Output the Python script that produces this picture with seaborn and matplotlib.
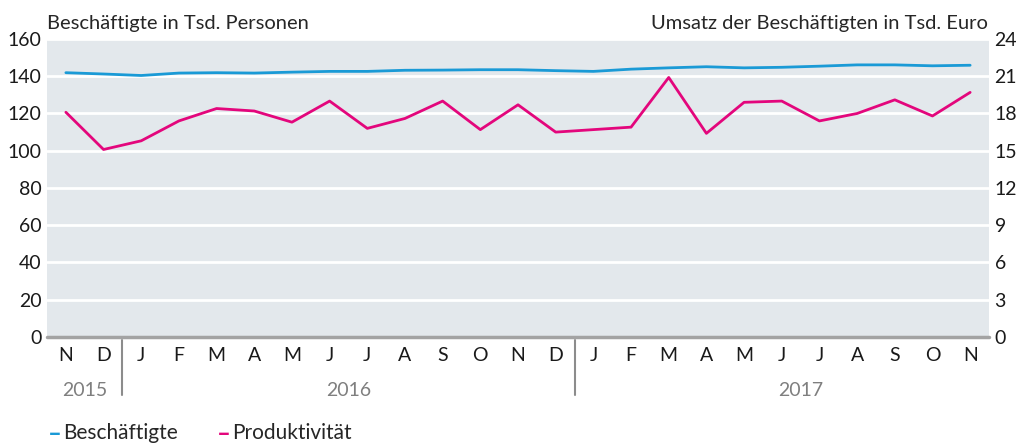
import matplotlib
matplotlib.use("Agg")
import matplotlib.pyplot as plt
import seaborn as sns
import pandas as pd

# data: Nov 2015 - Nov 2017
months = ["N", "D", "J", "F", "M", "A", "M", "J", "J", "A", "S", "O", "N",
          "D", "J", "F", "M", "A", "M", "J", "J", "A", "S", "O", "N"]
years = ["2015", "2016", "2017"]
beschaeftigte = [141.9, 141.2, 140.4, 141.7, 141.9, 141.7, 142.2, 142.6, 142.6, 143.2,
                 143.3, 143.5, 143.5, 143.0, 142.6, 143.8, 144.5, 145.1, 144.5, 144.8,
                 145.4, 146.1, 146.1, 145.6, 145.9]
produktivitaet = [18.1, 15.1, 15.8, 17.4, 18.4, 18.2, 17.3, 19.0, 16.8, 17.6,
                  19.0, 16.7, 18.7, 16.5, 16.7, 16.9, 20.9, 16.4, 18.9, 19.0,
                  17.4, 18.0, 19.1, 17.8, 19.7]

df = pd.DataFrame({"pos": range(len(months)), "besch": beschaeftigte, "prod": produktivitaet})

BLUE = "#1a9ad6"
PINK = "#e3067c"
BG = "#e3e8ec"

sns.set_theme(style="white")
plt.rcParams["font.family"] = ["Lato", "DejaVu Sans"]

fig = plt.figure(figsize=(10.18, 4.43), dpi=100)
ax = fig.add_axes([0.0462, 0.2393, 0.9253, 0.6727])
ax.set_facecolor(BG)
ax2 = ax.twinx()

sns.lineplot(data=df, x="pos", y="besch", ax=ax, color=BLUE, linewidth=2)
sns.lineplot(data=df, x="pos", y="prod", ax=ax2, color=PINK, linewidth=2)

ax.set_xlim(-0.5, 24.5)
ax.set_ylim(0, 160)
ax2.set_ylim(0, 24)
ax.set_yticks(range(0, 161, 20))
ax2.set_yticks(range(0, 25, 3))
ax.set_xticks(range(len(months)))
ax.set_xticklabels(months)

for y in range(20, 161, 20):
    ax.axhline(y, color="white", linewidth=2, zorder=1)
ax.axhline(0, color="#a3a3a3", linewidth=2.5, zorder=3, clip_on=False)

for a in (ax, ax2):
    for s in a.spines.values():
        s.set_visible(False)
    a.set_xlabel("")
    a.set_ylabel("")
ax.tick_params(axis="both", length=0, labelsize=14, colors="#1a1a1a")
ax.tick_params(axis="x", pad=7)
ax.tick_params(axis="y", pad=4)
ax2.tick_params(axis="y", length=0, labelsize=14, colors="#1a1a1a", pad=4)

# year labels and separators
for xpos, yr in zip((0.5, 7.5, 19.5), years):
    ax.text(xpos, -0.18, yr, transform=ax.get_xaxis_transform(), ha="center", va="center",
            fontsize=14, color="#7f7f7f")
for xs in (1.5, 13.5):
    ax.plot([xs, xs], [-0.01, -0.195], transform=ax.get_xaxis_transform(), color="#8c8c8c",
            linewidth=1.5, clip_on=False)

# axis titles
fig.text(0.0462, 0.948, "Beschäftigte in Tsd. Personen", ha="left", va="center", fontsize=14.5)
fig.text(0.9705, 0.948, "Umsatz der Beschäftigten in Tsd. Euro", ha="right", va="center", fontsize=14.5)

# legend
fig.text(0.047, 0.022, "\u2013", color=BLUE, fontsize=17, fontweight="bold", va="center")
fig.text(0.062, 0.022, "Beschäftigte", fontsize=15, va="center")
fig.text(0.213, 0.022, "\u2013", color=PINK, fontsize=17, fontweight="bold", va="center")
fig.text(0.228, 0.022, "Produktivität", fontsize=15, va="center")

fig.savefig("out.png", dpi=100)
